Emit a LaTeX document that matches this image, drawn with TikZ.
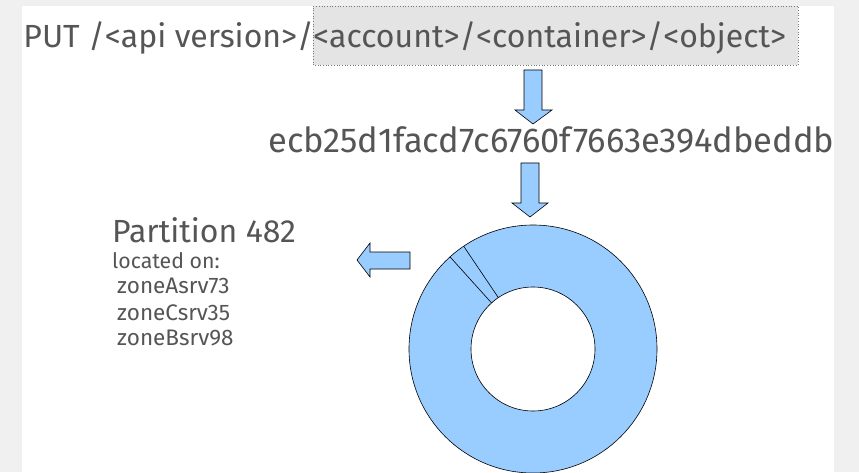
\documentclass[tikz,border=0pt]{standalone}
\usepackage{fontspec}
\setmainfont{Fira Sans}
\usetikzlibrary{calc}
\definecolor{Paper}{HTML}{F0F0F0}
\definecolor{Ink}{HTML}{555555}
\definecolor{RingBlue}{HTML}{99CCFF}
\definecolor{PathBox}{HTML}{E4E4E4}

\begin{document}
\begin{tikzpicture}[x=1pt,y=1pt,
  txt/.style={inner sep=0pt,text=Ink},
  blockarrow/.style={fill=RingBlue,draw=black,line width=0.6pt,line join=miter}]
% page
\fill[Paper] (0,0) rectangle (859,472);
\fill[white] (22,0) rectangle (834,466);
\useasboundingbox (0,0) rectangle (859,472);
% request path, hashed part boxed
\filldraw[fill=PathBox,draw=Ink!80,dotted,line width=0.7pt] (313,407) rectangle (798,466);
\node[txt,anchor=base east,font=\fontsize{32}{40}\selectfont] (verb) at (314,424) {PUT /<api version>/};
\node[txt,anchor=base west,font=\fontsize{32}{40}\selectfont] (obj) at (313,424) {<account>/<container>/<object>};
\node[txt,anchor=base west,font=\fontsize{34.5}{38}\selectfont] (hash) at (268,319) {ecb25d1facd7c6760f7663e394dbeddb};
% block arrows
\draw[blockarrow] (524,402) -- (542,402) -- (542,362) -- (552,362) -- (533,348) -- (515,362) -- (524,362) -- cycle;
\draw[blockarrow] (521,309) -- (539,309) -- (539,269) -- (548,269) -- (530,255) -- (512,269) -- (521,269) -- cycle;
\draw[blockarrow] (410,220) -- (370,220) -- (370,229) -- (357,212) -- (370,195) -- (370,203) -- (410,203) -- cycle;
% ring
\coordinate (ring) at (533,123);
\fill[RingBlue,even odd rule] (ring) circle (124pt) (ring) circle (62pt);
\draw[line width=0.6pt] (ring) circle (124pt);
\draw[line width=0.6pt] (ring) circle (62pt);
\draw[line width=0.6pt] ([shift={(132:62pt)}]ring) -- ([shift={(132:124pt)}]ring);
\draw[line width=0.6pt] ([shift={(124:62pt)}]ring) -- ([shift={(124:124pt)}]ring);
% partition
\node[txt,anchor=base west,font=\fontsize{32}{36}\selectfont] (part) at (112,230) {Partition 482};
\node[txt,anchor=base west,font=\fontsize{21.3}{24}\selectfont] (loc) at (112,204) {located on:};
\node[txt,anchor=base west,font=\fontsize{22.5}{24}\selectfont] (srvA) at (117,179) {zoneAsrv73};
\node[txt,anchor=base west,font=\fontsize{22.5}{24}\selectfont] (srvC) at (117,152) {zoneCsrv35};
\node[txt,anchor=base west,font=\fontsize{22.5}{24}\selectfont] (srvB) at (117,127) {zoneBsrv98};
\end{tikzpicture}
\end{document}
